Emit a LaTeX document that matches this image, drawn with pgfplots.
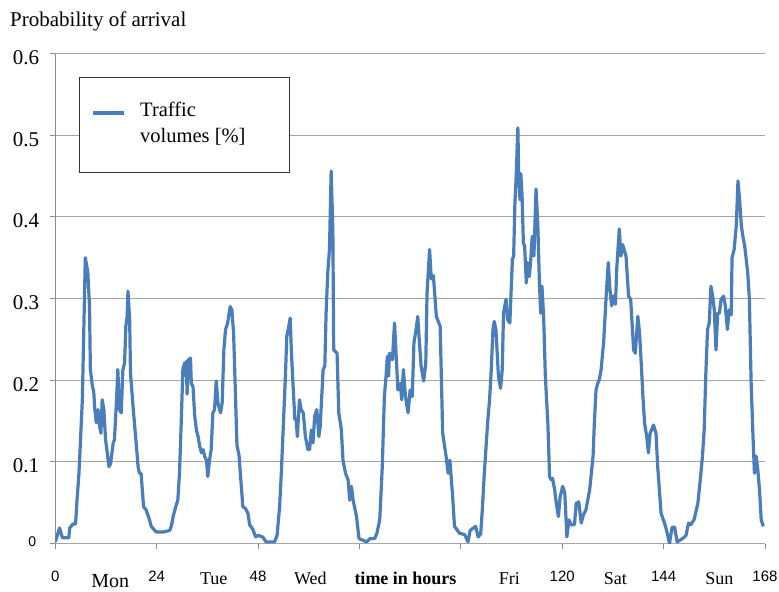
\documentclass[border=0pt]{standalone}
\usepackage{fontspec}
\setmainfont{Liberation Serif}
\setsansfont{Liberation Sans}
\usepackage{pgfplots}
\pgfplotsset{compat=1.18}
\definecolor{cblue}{RGB}{74,126,187}

\begin{document}
\begin{tikzpicture}
\useasboundingbox (0,0) rectangle (779bp,592bp);
\begin{axis}[
    at={(55.3bp,48.5bp)}, anchor=south west,
    scale only axis, width=709.7bp, height=490bp,
    xmin=0, xmax=168, ymin=0, ymax=0.6,
    axis x line*=bottom, axis y line*=left,
    axis line style={draw=black!45, line width=1bp, -},
    ymajorgrids, grid style={draw=black!35, line width=1bp},
    tick align=outside, major tick length=5bp,
    tick style={draw=black!45, line width=1bp},
    xtick={0,24,48,72,96,120,144,168},
    xticklabels={0,24,48,,,120,144,168},
    xticklabel style={font=\sffamily\fontsize{15bp}{15bp}\selectfont, anchor=base, inner sep=0pt, yshift=-33bp},
    extra x ticks={13,37.5,60.4,82.9,107.5,132.6,157.2},
    extra x tick labels={{\fontsize{20bp}{20bp}\selectfont\raisebox{-3bp}{Mon}},Tue,Wed,\textbf{time in hours},Fri,Sat,Sun},
    extra x tick style={major tick length=0pt, xticklabel style={font=\rmfamily\fontsize{18bp}{18bp}\selectfont, yshift=-8bp}},
    ytick={0.1,0.2,0.3,0.4,0.5,0.6},
    yticklabels={0.1,0.2,0.3,0.4,0.5,0.6},
    yticklabel style={font=\fontsize{21bp}{21bp}\selectfont, anchor=east, inner sep=0pt, xshift=-11bp, yshift=-4bp},
    extra y ticks={0},
    extra y tick labels={0},
    extra y tick style={yticklabel style={font=\sffamily\fontsize{14bp}{14bp}\selectfont, xshift=-3bp, yshift=5.5bp}},
]
\addplot[cblue, line width=3.2bp, line join=round] table {
h v
0 0.002
1.0 0.019
1.7 0.007
3.2 0.007
3.4 0.019
4.2 0.024
4.8 0.024
5.1 0.05
5.6 0.086
5.9 0.119
6.4 0.176
6.7 0.25
7.1 0.35
7.7 0.332
8.1 0.29
8.3 0.213
8.8 0.192
9.1 0.186
9.3 0.168
9.7 0.148
10.1 0.164
10.5 0.143
10.8 0.135
11.1 0.176
11.5 0.164
11.9 0.127
12.3 0.111
12.7 0.094
13.1 0.098
13.7 0.123
14.0 0.127
14.5 0.176
14.8 0.213
15.2 0.164
15.6 0.16
16.0 0.213
16.4 0.221
16.7 0.266
17.0 0.278
17.2 0.309
17.6 0.274
17.8 0.209
18.4 0.168
19.2 0.119
19.6 0.094
19.9 0.086
20.3 0.086
20.9 0.045
21.5 0.041
22.3 0.029
22.7 0.021
23.9 0.014
25.5 0.014
27.1 0.016
27.5 0.022
27.9 0.033
28.5 0.045
29.0 0.053
29.4 0.086
29.8 0.147
30.2 0.213
30.6 0.221
30.8 0.205
31.0 0.223
31.2 0.183
31.5 0.225
32.0 0.227
32.2 0.196
32.6 0.192
33.0 0.156
33.4 0.139
33.8 0.131
34.2 0.119
34.6 0.111
35.0 0.115
35.4 0.106
35.8 0.102
36.1 0.082
36.5 0.102
36.9 0.115
37.3 0.16
37.7 0.164
38.1 0.199
38.5 0.172
39.1 0.16
39.5 0.172
39.9 0.237
40.3 0.262
40.8 0.27
41.4 0.29
41.8 0.286
42.2 0.258
42.6 0.19
43.0 0.12
43.5 0.108
43.8 0.086
44.4 0.045
45.0 0.043
45.6 0.037
46.0 0.023
46.8 0.017
47.4 0.008
48.0 0.01
49.1 0.008
49.9 0.002
51.9 0.002
52.5 0.01
53.1 0.045
53.5 0.086
54.0 0.147
54.5 0.209
54.8 0.254
55.2 0.264
55.6 0.276
55.9 0.233
56.3 0.192
56.7 0.152
57.0 0.152
57.3 0.131
57.8 0.176
58.2 0.164
58.7 0.16
59.2 0.131
59.8 0.115
60.2 0.115
60.6 0.139
61.0 0.123
61.4 0.156
61.9 0.164
62.4 0.131
62.7 0.143
63.4 0.213
63.8 0.217
64.1 0.282
64.5 0.332
64.9 0.36
65.3 0.456
65.7 0.385
65.9 0.237
66.7 0.233
67.1 0.16
67.7 0.14
68.1 0.102
68.7 0.086
69.3 0.078
69.7 0.053
70.1 0.070
70.5 0.053
71.3 0.033
71.9 0.006
72.8 0.004
73.7 0.002
74.5 0.006
75.6 0.006
76.1 0.012
76.8 0.029
77.4 0.094
77.9 0.18
78.3 0.205
78.6 0.229
78.9 0.205
79.1 0.233
79.8 0.225
80.3 0.27
80.7 0.229
81.1 0.188
81.7 0.196
82.0 0.176
82.4 0.213
82.9 0.18
83.5 0.16
84.0 0.188
84.5 0.18
84.9 0.246
85.4 0.262
85.8 0.278
86.2 0.246
86.6 0.217
87.2 0.199
87.7 0.221
88.0 0.307
88.6 0.36
89.0 0.324
89.5 0.328
90.2 0.278
91.1 0.266
91.7 0.135
92.5 0.107
93.0 0.086
93.4 0.102
94.0 0.062
94.5 0.021
95.7 0.0125
96.9 0.011
97.7 0.002
98.2 0.016
99.5 0.021
100.1 0.008
100.7 0.012
101.1 0.043
101.6 0.09
102.4 0.152
102.8 0.176
103.2 0.213
103.6 0.262
103.9 0.272
104.3 0.262
104.9 0.205
105.4 0.19
105.8 0.213
106.1 0.282
106.7 0.299
107.1 0.274
107.6 0.270
108.2 0.348
108.5 0.352
108.8 0.417
109.1 0.45
109.5 0.509
109.7 0.45
110.0 0.421
110.2 0.453
110.5 0.425
110.8 0.368
111.1 0.364
111.5 0.319
111.8 0.344
112.2 0.327
112.5 0.344
112.9 0.376
113.3 0.352
113.8 0.434
114.2 0.393
114.6 0.319
114.9 0.282
115.2 0.315
115.6 0.278
116.0 0.205
116.6 0.147
117.0 0.082
117.4 0.078
117.7 0.08
118.2 0.066
118.6 0.049
119.1 0.033
119.5 0.057
120.1 0.07
120.6 0.062
121.1 0.008
121.6 0.029
122.1 0.023
122.9 0.023
123.3 0.049
123.9 0.051
124.5 0.025
125.0 0.035
125.6 0.041
126.5 0.066
127.3 0.107
127.6 0.147
128.0 0.188
128.4 0.196
128.8 0.201
129.2 0.213
129.8 0.246
130.4 0.303
130.9 0.344
131.3 0.311
131.7 0.291
132.1 0.303
132.6 0.293
132.9 0.336
133.5 0.385
133.9 0.352
134.3 0.366
135.1 0.352
135.7 0.303
136.2 0.299
136.9 0.237
137.3 0.233
137.9 0.278
138.3 0.258
138.7 0.221
139.1 0.18
139.5 0.147
140.0 0.131
140.4 0.111
140.8 0.135
141.6 0.145
142.2 0.135
142.6 0.094
143.4 0.037
144.2 0.025
144.7 0.016
145.4 0.0
146.0 0.02
146.6 0.02
147.2 0.002
148.5 0.006
149.3 0.01
149.9 0.025
150.4 0.023
151.2 0.029
152.1 0.049
152.6 0.074
153.2 0.107
153.6 0.139
154.0 0.209
154.4 0.262
154.8 0.27
155.2 0.315
155.6 0.303
156.0 0.286
156.4 0.237
156.8 0.282
157.2 0.282
157.6 0.299
158.2 0.303
158.6 0.291
159.1 0.262
159.5 0.286
160.0 0.28
160.2 0.35
160.7 0.36
161.2 0.389
161.6 0.444
162.0 0.42
162.4 0.389
162.8 0.375
163.2 0.364
163.9 0.332
164.3 0.299
164.7 0.2
165.1 0.139
165.5 0.086
165.9 0.107
166.3 0.09
166.7 0.066
167.1 0.029
167.6 0.021
};
\end{axis}
% title
\node[anchor=base west, inner sep=0pt, font=\fontsize{21bp}{21bp}\selectfont] at (10bp,565bp) {Probability of arrival};
% legend
\draw[draw=black!80, line width=0.8bp, fill=white] (79bp,420bp) rectangle (289bp,515bp);
\draw[cblue, line width=3.2bp] (93bp,479bp) -- (124bp,479bp);
\node[anchor=base west, inner sep=0pt, font=\fontsize{20.5bp}{20.5bp}\selectfont] at (140bp,475bp) {Traffic};
\node[anchor=base west, inner sep=0pt, font=\fontsize{20.5bp}{20.5bp}\selectfont] at (140bp,449bp) {volumes [\%]};
\end{tikzpicture}
\end{document}
